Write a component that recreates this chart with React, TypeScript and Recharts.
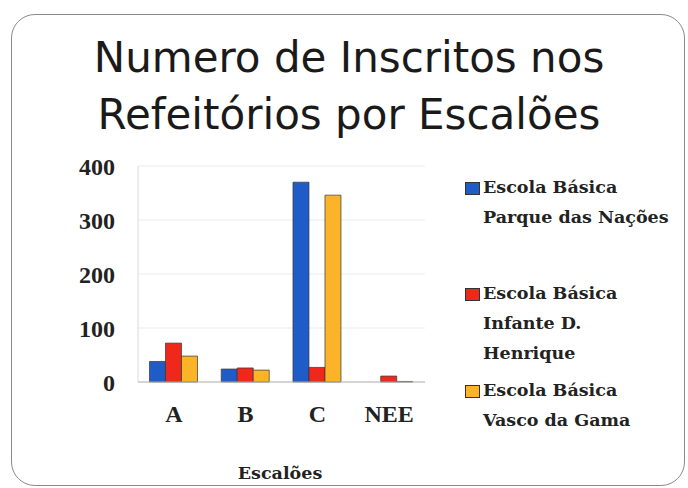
import React from 'react';
import { BarChart, Bar, XAxis, YAxis, CartesianGrid } from 'recharts';

const categories = ['A', 'B', 'C', 'NEE'];
const parqueNacoes = [38, 24, 370, 0];
const infanteHenrique = [72, 26, 27, 11];
const vascoGama = [48, 22, 346, 1];
const yTicks = [0, 100, 200, 300, 400];

const seriesNames = [
  ['Escola Básica', 'Parque das Nações'],
  ['Escola Básica', 'Infante D.', 'Henrique'],
  ['Escola Básica', 'Vasco da Gama'],
];
const seriesColors = ['#1f5cc8', '#f0281c', '#fbb328'];

const data = categories.map((c, i) => ({
  cat: c,
  s0: parqueNacoes[i],
  s1: infanteHenrique[i],
  s2: vascoGama[i],
}));

const serif = '"DejaVu Serif", serif';
const tickFont = { fontFamily: '"Liberation Serif", serif', fontWeight: 'bold', fontSize: 24, fill: '#222' };
const legendTops = [172, 278, 375];

export default function App() {
  return (
    <div style={{ position: 'absolute', left: 0, top: 0, width: 688, height: 488, background: '#fff', overflow: 'hidden' }}>
      <div style={{ position: 'absolute', left: 11, top: 14, width: 672, height: 470, border: '1.5px solid #8a8a8a', borderRadius: 24 }} />
      <div style={{ position: 'absolute', left: 0, top: 29, width: 698, textAlign: 'center', fontFamily: '"DejaVu Sans", sans-serif', fontSize: 42, lineHeight: '57px', color: '#1a1a1a' }}>
        Numero de Inscritos nos<br />Refeitórios por Escalões
      </div>

      <div style={{ position: 'absolute', left: 0, top: 0 }}>
        <BarChart width={688} height={488} data={data} margin={{ top: 166, right: 263, bottom: 66, left: 78 }} barGap={0} barCategoryGap="16%">
          <CartesianGrid vertical={false} stroke="#ebebeb" />
          <XAxis dataKey="cat" height={40} axisLine={{ stroke: '#b5b5b5' }} tickLine={false} tickMargin={17} tick={tickFont} />
          <YAxis width={60} domain={[0, 400]} ticks={yTicks} axisLine={{ stroke: '#dcdcdc' }} tickLine={false} tickMargin={17} tick={tickFont} />
          <Bar dataKey="s0" fill={seriesColors[0]} stroke="#333" strokeWidth={0.7} isAnimationActive={false} />
          <Bar dataKey="s1" fill={seriesColors[1]} stroke="#333" strokeWidth={0.7} isAnimationActive={false} />
          <Bar dataKey="s2" fill={seriesColors[2]} stroke="#333" strokeWidth={0.7} isAnimationActive={false} />
        </BarChart>
      </div>

      {seriesNames.map((lines, i) => (
        <div key={i} style={{ position: 'absolute', left: 465, top: legendTops[i], fontFamily: serif, fontWeight: 'bold', fontSize: 17.5, lineHeight: '30px', color: '#222' }}>
          <span style={{ position: 'absolute', left: 0, top: 10, width: 13, height: 11, background: seriesColors[i], border: '1px solid #333' }} />
          {lines.map((t, j) => (
            <div key={j} style={{ paddingLeft: 18, whiteSpace: 'nowrap' }}>{t}</div>
          ))}
        </div>
      ))}

      <div style={{ position: 'absolute', left: 230, top: 463, width: 100, textAlign: 'center', fontFamily: serif, fontWeight: 'bold', fontSize: 17.5, color: '#222' }}>
        Escalões
      </div>
    </div>
  );
}
